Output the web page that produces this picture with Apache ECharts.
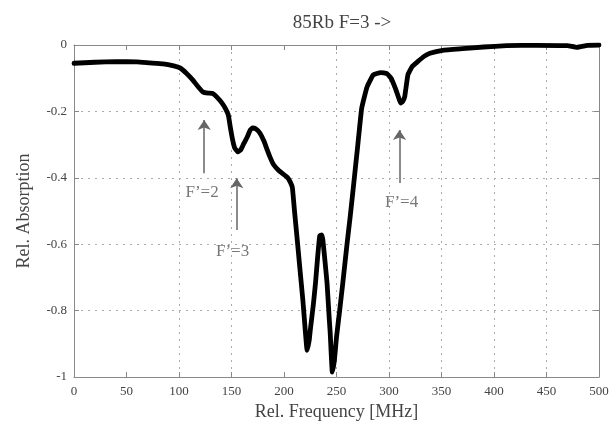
<!DOCTYPE html>
<html>
<head>
<meta charset="utf-8">
<script src="https://cdn.jsdelivr.net/npm/echarts@6/dist/echarts.min.js"></script>
<style>html,body{margin:0;padding:0;background:#fff;}#c{width:616px;height:435px;}</style>
</head>
<body>
<div id="c"></div>
<script>
// Relative frequency [MHz]
const freq = [0, 20, 40, 60, 72, 85, 95, 101, 107, 113, 118, 123, 128, 132, 137, 141, 144, 147, 149, 151, 153, 156, 159, 162, 165, 168, 170, 173, 177, 181, 184, 187, 190, 195, 199, 203, 206, 208, 210, 213, 215, 218, 220, 222, 224, 225, 228, 230, 232, 234, 236, 237, 239, 241, 243, 244, 246, 248, 250, 253, 256, 260, 263, 267, 270, 274, 279, 285, 292, 298, 302, 306, 309, 311, 313, 315, 318, 322, 327, 333, 339, 351, 370, 390, 412, 440, 470, 479, 489, 500];
// Relative absorption
const absorption = [-0.055, -0.052, -0.05, -0.051, -0.054, -0.057, -0.063, -0.069, -0.085, -0.105, -0.125, -0.142, -0.145, -0.146, -0.16, -0.175, -0.19, -0.211, -0.25, -0.285, -0.31, -0.322, -0.315, -0.295, -0.277, -0.255, -0.25, -0.252, -0.265, -0.29, -0.316, -0.34, -0.36, -0.378, -0.388, -0.398, -0.413, -0.43, -0.5, -0.6, -0.669, -0.77, -0.85, -0.92, -0.89, -0.86, -0.78, -0.717, -0.64, -0.575, -0.572, -0.587, -0.65, -0.717, -0.82, -0.867, -0.985, -0.95, -0.88, -0.8, -0.717, -0.6, -0.518, -0.4, -0.31, -0.19, -0.127, -0.09, -0.083, -0.086, -0.1, -0.13, -0.157, -0.175, -0.17, -0.155, -0.09, -0.065, -0.051, -0.035, -0.025, -0.016, -0.011, -0.006, -0.002, -0.001, -0.002, -0.007, -0.001, 0];

// Annotations (hyperfine transitions)
const annLabels = ['F\u2019=2', 'F\u2019=3', 'F\u2019=4'];
const annArrowX = [124, 155, 310];
const annArrowFrom = [-0.386, -0.557, -0.416];
const annArrowTo = [-0.226, -0.401, -0.256];
const annLabelX = [122, 151, 312];
const annLabelY = [-0.443, -0.623, -0.473];

const FONT = 'Liberation Serif';
const lineData = freq.map((f, i) => [f, absorption[i]]);
const gridColor = '#aaaaaa';
const none = 'rgba(0,0,0,0)';
// vertical dotted grid lines (none at 0, 50, 200, 500 in the original)
const vGridColors = [none, none, gridColor, gridColor, none, gridColor, gridColor, gridColor, gridColor, gridColor, none];
const hGridColors = [none, gridColor, gridColor, gridColor, gridColor, none];

const chart = echarts.init(document.getElementById('c'), null, {renderer: 'canvas'});
const axisCommon = {
  axisLine: {show: true, onZero: false, lineStyle: {color: '#888', width: 1}},
  axisTick: {show: true, inside: true, length: 5, lineStyle: {color: '#888'}},
};
chart.setOption({
  animation: false,
  backgroundColor: '#ffffff',
  title: {
    text: '85Rb F=3 ->',
    left: 337, top: 9, textAlign: 'center',
    textStyle: {fontFamily: FONT, fontSize: 19, fontWeight: 'normal', color: '#444'}
  },
  grid: {left: 74, right: 17, top: 45, bottom: 58},
  xAxis: [{
    type: 'value', min: 0, max: 500, interval: 50,
    name: 'Rel. Frequency [MHz]', nameLocation: 'middle', nameGap: 24,
    nameTextStyle: {fontFamily: FONT, fontSize: 18, color: '#444'},
    axisLabel: {fontFamily: FONT, fontSize: 13, color: '#444', margin: 8},
    splitLine: {show: true, lineStyle: {type: [2, 5], color: vGridColors, width: 1}},
    ...axisCommon
  }, {
    type: 'value', min: 0, max: 500, interval: 50, position: 'top',
    axisLabel: {show: false}, splitLine: {show: false},
    ...axisCommon
  }],
  yAxis: [{
    type: 'value', min: -1, max: 0, interval: 0.2,
    name: 'Rel. Absorption', nameLocation: 'middle', nameGap: 41,
    nameTextStyle: {fontFamily: FONT, fontSize: 18, color: '#444'},
    axisLabel: {fontFamily: FONT, fontSize: 13, color: '#444', margin: 7},
    splitLine: {show: true, lineStyle: {type: [2, 5], color: hGridColors, width: 1}},
    ...axisCommon
  }, {
    type: 'value', min: -1, max: 0, interval: 0.2, position: 'right',
    axisLabel: {show: false}, splitLine: {show: false},
    ...axisCommon
  }],
  series: [{
    type: 'line',
    data: lineData,
    showSymbol: false,
    smooth: 0.1,
    lineStyle: {color: '#000', width: 4.8, cap: 'round', join: 'round'},
    z: 5,
    markLine: {
      silent: true,
      symbol: ['none', 'arrow'],
      symbolSize: 10,
      label: {show: false},
      lineStyle: {color: '#666', width: 1.5, type: 'solid'},
      itemStyle: {color: '#666'},
      data: annArrowX.map((x, i) => [{coord: [x, annArrowFrom[i]]}, {coord: [x, annArrowTo[i]]}])
    }
  }, {
    type: 'scatter',
    data: annLabels.map((t, i) => ({name: t, value: [annLabelX[i], annLabelY[i]]})),
    symbolSize: 1,
    itemStyle: {color: none},
    silent: true,
    label: {
      show: true, position: 'inside', formatter: p => p.name,
      fontFamily: FONT, fontSize: 17, color: '#555'
    }
  }]
});
</script>
</body>
</html>
